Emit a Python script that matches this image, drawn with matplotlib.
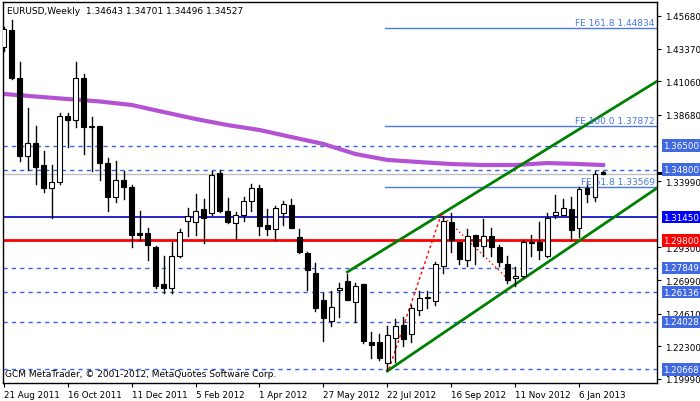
import matplotlib
matplotlib.use("Agg")
import matplotlib.pyplot as plt
plt.rcParams['font.family'] = ['DejaVu Sans']

opens  = [1.435,1.447,1.413,1.358,1.367,1.351,1.335,1.339,1.386,1.383,1.413,1.378,1.379,1.353,1.329,1.341,
          1.336,1.303,1.303,1.293,1.267,1.264,1.287,1.312,1.311,1.320,1.317,1.346,1.319,1.310,1.316,1.326,
          1.335,1.309,1.306,1.317,1.323,1.300,1.289,1.275,1.256,1.241,1.263,1.269,1.254,1.267,1.226,1.226,
          1.211,1.229,1.238,1.232,1.249,1.257,1.255,1.280,1.311,1.297,1.284,1.302,1.294,1.301,1.293,1.281,
          1.271,1.273,1.296,1.297,1.287,1.316,1.316,1.320,1.307,1.335,1.329,1.34643]
highs  = [1.449,1.454,1.424,1.392,1.379,1.361,1.351,1.388,1.388,1.424,1.416,1.385,1.379,1.356,1.354,1.347,
          1.337,1.319,1.307,1.294,1.287,1.297,1.306,1.321,1.331,1.327,1.347,1.348,1.328,1.318,1.329,1.338,
          1.337,1.320,1.322,1.326,1.327,1.306,1.290,1.282,1.261,1.262,1.268,1.274,1.268,1.267,1.233,1.232,
          1.237,1.242,1.244,1.252,1.262,1.262,1.283,1.315,1.317,1.297,1.306,1.302,1.313,1.307,1.295,1.287,
          1.279,1.298,1.302,1.311,1.317,1.330,1.327,1.329,1.336,1.339,1.347,1.34701]
lows   = [1.432,1.412,1.354,1.348,1.338,1.332,1.314,1.338,1.364,1.378,1.359,1.347,1.341,1.319,1.325,1.327,
          1.293,1.298,1.284,1.264,1.261,1.261,1.286,1.301,1.302,1.296,1.316,1.318,1.310,1.299,1.312,1.319,
          1.302,1.302,1.298,1.309,1.307,1.289,1.263,1.248,1.227,1.237,1.244,1.256,1.240,1.225,1.215,1.213,
          1.206,1.212,1.223,1.226,1.245,1.250,1.252,1.275,1.290,1.281,1.280,1.281,1.287,1.287,1.280,1.268,
          1.266,1.272,1.287,1.285,1.286,1.314,1.316,1.298,1.300,1.325,1.326,1.34496]
closes = [1.4476,1.413,1.358,1.367,1.350,1.335,1.339,1.386,1.383,1.413,1.378,1.379,1.353,1.329,1.341,1.336,
          1.302,1.302,1.295,1.266,1.264,1.287,1.304,1.315,1.319,1.314,1.344,1.319,1.311,1.316,1.326,1.335,
          1.308,1.306,1.321,1.324,1.307,1.290,1.277,1.250,1.243,1.251,1.264,1.256,1.266,1.227,1.224,1.215,
          1.231,1.237,1.228,1.250,1.257,1.258,1.281,1.312,1.298,1.285,1.301,1.294,1.301,1.293,1.283,1.270,
          1.273,1.297,1.297,1.291,1.314,1.318,1.321,1.305,1.334,1.331,1.345,1.34527]

ma_idx = [0,4,8,12,16,20,24,28,32,36,40,44,48,52,56,60,64,68,72,75]
ma_val = [1.4016,1.3998,1.3980,1.3963,1.3938,1.3888,1.3839,1.3796,1.3761,1.3711,1.3662,1.3591,
          1.3549,1.3534,1.3520,1.3513,1.3513,1.3527,1.3520,1.3513]

date_labels = ["21 Aug 2011","16 Oct 2011","11 Dec 2011","5 Feb 2012","1 Apr 2012",
               "27 May 2012","22 Jul 2012","16 Sep 2012","11 Nov 2012","6 Jan 2013"]
dashed_levels = [1.3650,1.3480,1.27849,1.26136,1.24028,1.20668]
blue_level = 1.3145
red_level = 1.2980
bid_level = 1.34527
fe_levels = [1.44834,1.37872,1.33569]
fe_names = ["FE 161.8 1.44834","FE 100.0 1.37872","FE 61.8 1.33569"]
plain_ticks = [1.45680,1.43370,1.41060,1.38680,1.33990,1.29300,1.26990,1.24610,1.22300,1.19990]
upper_ch = ([43,81.75],[1.2756,1.4106])
lower_ch = ([48,81.75],[1.2055,1.3350])
fe_path = ([48.2,54.75,63.4],[1.2068,1.3164,1.2688])

fig = plt.figure(figsize=(7,4.02), dpi=100)
ax = fig.add_axes([3/700, 18/402, 654/700, 381/402])
XMAX = 81.75
ax.set_xlim(-0.1, XMAX)
ax.set_ylim(1.1970, 1.4667)

for lv in dashed_levels:
    ax.axhline(lv, color="#3a62e0", lw=1, ls=(0,(3,3)), zorder=1)
ax.axhline(bid_level, color="#c0c0c0", lw=1, zorder=1)
ax.axhline(blue_level, color="#0000c8", lw=1.2, zorder=1)
ax.axhline(red_level, color="#ff0000", lw=2, zorder=1)
for lv, nm in zip(fe_levels, fe_names):
    ax.plot([47.7, XMAX], [lv, lv], color="#4a78e6", lw=1, zorder=1)
    ax.text(XMAX-0.3, lv+0.0008, nm, color="#4a78e6", fontsize=6.5, ha="right", va="bottom", zorder=5)

ax.plot(ma_idx, ma_val, color="#b452d4", lw=3, zorder=2)
ax.plot(*upper_ch, color="#008000", lw=2, zorder=3)
ax.plot(*lower_ch, color="#008000", lw=2, zorder=3)
ax.plot(fe_path[0][:2], fe_path[1][:2], color="#ff0000", lw=1, ls=(0,(2,2)), zorder=3)
ax.plot(fe_path[0][1:], fe_path[1][1:], color="#ff0000", lw=1, ls=(0,(1,2)), zorder=3)

for i,(o,h,l,c) in enumerate(zip(opens,highs,lows,closes)):
    ax.plot([i,i],[l,h], color="black", lw=1, zorder=4)
    fc = "white" if c >= o else "black"
    ax.bar(i, max(abs(c-o), 0.0003), bottom=min(o,c), width=0.6, color=fc,
           edgecolor="black", lw=0.8, zorder=5)

ax.yaxis.tick_right()
ax.set_yticks(plain_ticks)
ax.set_yticklabels([f"{t:.5f}" for t in plain_ticks], fontsize=6.3)
ax.tick_params(axis="y", length=3, pad=3)
boxed = [(1.3650,"#4169e1"),(1.3480,"#4169e1"),(1.3145,"#0000ff"),(1.2980,"#ff0000"),
         (1.27849,"#4169e1"),(1.26136,"#4169e1"),(1.24028,"#4169e1"),(1.20668,"#4169e1")]
ax.add_patch(plt.Rectangle((1.0, bid_level-0.0012), 0.065, 0.0024, transform=ax.get_yaxis_transform(),
                           fc="black", ec="none", clip_on=False, zorder=9))
for lv, col in boxed:
    ax.annotate(f"{lv:.5f}", xy=(1, lv), xycoords=("axes fraction","data"),
                xytext=(4.5, 0), textcoords="offset points", fontsize=6.3, color="white",
                va="center", ha="left",
                bbox=dict(boxstyle="square,pad=0.2", fc=col, ec="none"), zorder=10,
                annotation_clip=False)

ax.set_xticks(list(range(0, 80, 8)))
ax.set_xticklabels(date_labels, fontsize=6.3, ha="left")
ax.tick_params(axis="x", length=3, pad=2)
for s in ax.spines.values():
    s.set_linewidth(1)

ax.text(0.006, 0.99, "EURUSD,Weekly  1.34643 1.34701 1.34496 1.34527", transform=ax.transAxes,
        fontsize=6.5, va="top", ha="left")
ax.text(0.003, 0.012, "GCM MetaTrader, © 2001-2012, MetaQuotes Software Corp.", transform=ax.transAxes,
        fontsize=6.5, va="bottom", ha="left")

fig.savefig("out.png", dpi=100)
